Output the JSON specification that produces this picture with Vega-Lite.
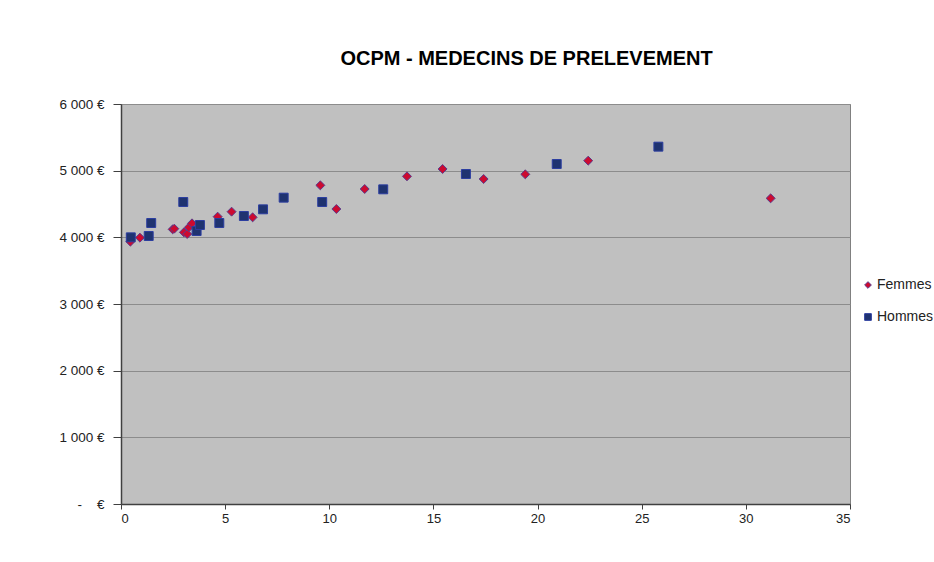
{
  "$schema": "https://vega.github.io/schema/vega-lite/v6.json",
  "width": 729,
  "height": 400,
  "autosize": "none",
  "padding": {"left": 121, "top": 104, "right": 84, "bottom": 58},
  "background": "#ffffff",
  "title": {
    "text": "OCPM - MEDECINS DE PRELEVEMENT",
    "font": "Liberation Sans",
    "fontSize": 20,
    "fontWeight": "bold",
    "color": "#000000",
    "anchor": "middle",
    "dx": 41,
    "offset": 28
  },
  "config": {
    "view": {"fill": "#C0C0C0", "stroke": "#808080", "strokeWidth": 1}
  },
  "data": {
    "values": [
      {"serie": "Femmes", "x": 0.45, "y": 3935},
      {"serie": "Femmes", "x": 0.91, "y": 3995},
      {"serie": "Femmes", "x": 2.48, "y": 4120},
      {"serie": "Femmes", "x": 2.56, "y": 4130},
      {"serie": "Femmes", "x": 3.02, "y": 4075},
      {"serie": "Femmes", "x": 3.18, "y": 4050},
      {"serie": "Femmes", "x": 3.26, "y": 4150},
      {"serie": "Femmes", "x": 3.41, "y": 4210},
      {"serie": "Femmes", "x": 4.64, "y": 4310},
      {"serie": "Femmes", "x": 5.31, "y": 4385},
      {"serie": "Femmes", "x": 6.32, "y": 4300},
      {"serie": "Femmes", "x": 9.57, "y": 4780},
      {"serie": "Femmes", "x": 10.34, "y": 4425},
      {"serie": "Femmes", "x": 11.7, "y": 4725},
      {"serie": "Femmes", "x": 13.73, "y": 4915},
      {"serie": "Femmes", "x": 15.44, "y": 5025},
      {"serie": "Femmes", "x": 17.41, "y": 4875},
      {"serie": "Femmes", "x": 19.41, "y": 4945},
      {"serie": "Femmes", "x": 22.43, "y": 5150},
      {"serie": "Femmes", "x": 31.19, "y": 4585},
      {"serie": "Hommes", "x": 0.47, "y": 4000},
      {"serie": "Hommes", "x": 1.33, "y": 4020},
      {"serie": "Hommes", "x": 1.45, "y": 4215},
      {"serie": "Hommes", "x": 2.99, "y": 4530},
      {"serie": "Hommes", "x": 3.63, "y": 4095},
      {"serie": "Hommes", "x": 3.79, "y": 4185},
      {"serie": "Hommes", "x": 4.72, "y": 4215},
      {"serie": "Hommes", "x": 5.9, "y": 4320},
      {"serie": "Hommes", "x": 6.82, "y": 4420},
      {"serie": "Hommes", "x": 7.81, "y": 4595},
      {"serie": "Hommes", "x": 9.66, "y": 4530},
      {"serie": "Hommes", "x": 12.59, "y": 4720},
      {"serie": "Hommes", "x": 16.56, "y": 4950},
      {"serie": "Hommes", "x": 20.92, "y": 5100},
      {"serie": "Hommes", "x": 25.8, "y": 5360}
    ]
  },
  "mark": {"type": "point", "filled": true, "size": 80, "strokeWidth": 1, "opacity": 1},
  "encoding": {
    "x": {
      "field": "x", "type": "quantitative",
      "scale": {"domain": [0, 35], "nice": false, "zero": true},
      "axis": {
        "title": null, "values": [0, 5, 10, 15, 20, 25, 30, 35], "grid": false,
        "tickSize": 5, "labelPadding": 3, "domainWidth": 1.5,
        "domainColor": "#404040", "tickColor": "#404040",
        "labelFont": "Liberation Sans", "labelFontSize": 13, "labelColor": "#222222"
      }
    },
    "y": {
      "field": "y", "type": "quantitative",
      "scale": {"domain": [0, 6000], "nice": false},
      "axis": {
        "title": null,
        "values": [0, 1000, 2000, 3000, 4000, 5000, 6000],
        "grid": true, "gridColor": "#8C8C8C", "gridWidth": 1,
        "tickSize": 8, "labelPadding": 9, "domainWidth": 1.5,
        "domainColor": "#404040", "tickColor": "#404040",
        "labelFont": "Liberation Sans", "labelFontSize": 13.5, "labelColor": "#222222",
        "labelExpr": "datum.value == 0 ? '-\u00a0\u00a0\u00a0\u00a0€' : replace(format(datum.value, ','), ',', '\u00a0') + '\u00a0€'"
      }
    },
    "shape": {
      "field": "serie", "type": "nominal",
      "scale": {"domain": ["Femmes", "Hommes"], "range": ["diamond", "square"]},
      "legend": null
    },
    "color": {
      "field": "serie", "type": "nominal",
      "scale": {"domain": ["Femmes", "Hommes"], "range": ["#CC0A30", "#1F3370"]},
      "legend": {
        "title": null, "orient": "none", "legendX": 740, "legendY": 174,
        "labelFont": "Liberation Sans", "labelFontSize": 14, "labelColor": "#222222",
        "symbolSize": 45, "rowPadding": 18, "labelOffset": 2,
        "padding": 0, "symbolStrokeWidth": 1
      }
    },
    "stroke": {
      "field": "serie", "type": "nominal",
      "scale": {"domain": ["Femmes", "Hommes"], "range": ["#5A3C8C", "#2B3DA0"]},
      "legend": null
    }
  }
}
